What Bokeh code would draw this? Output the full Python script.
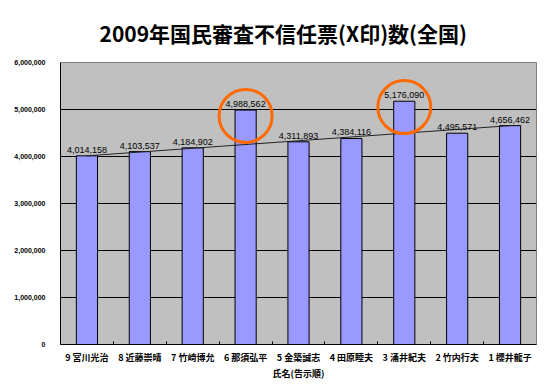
from bokeh.plotting import figure
from bokeh.embed import file_html
from bokeh.resources import INLINE
from bokeh.models import FixedTicker, NumeralTickFormatter, Range1d, ColumnDataSource
from bokeh.core.properties import value

# ---- data ----
names = ["9 宮川光治", "8 近藤崇晴", "7 竹崎博允", "6 那須弘平", "5 金築誠志",
         "4 田原睦夫", "3 涌井紀夫", "2 竹内行夫", "1 櫻井龍子"]
votes = [4014158, 4103537, 4184902, 4988562, 4311893, 4384116, 5176090, 4495571, 4656462]
highlight = [3, 6]
y_ticks = [0, 1000000, 2000000, 3000000, 4000000, 5000000, 6000000]
title_text = "2009年国民審査不信任票(X印)数(全国)"
x_title = "氏名(告示順)"

xs = [i + 0.5 for i in range(len(names))]
labels = [f"{v:,}" for v in votes]
src = ColumnDataSource(dict(x=xs, top=votes, label=labels))

p = figure(width=540, height=382, output_backend="svg", toolbar_location=None,
           x_range=Range1d(0, len(names)), y_range=Range1d(0, 6000000),
           frame_width=476, frame_height=282,
           min_border_left=60, min_border_right=4, min_border_top=62, min_border_bottom=38)
p.border_fill_color = "white"
p.background_fill_color = "#C0C0C0"
p.outline_line_color = "#808080"
p.outline_line_width = 1

p.title.text = title_text
p.title.text_font = "Noto Sans CJK JP"
p.title.text_font_size = "21px"
p.title.text_font_style = "bold"
p.title.align = "left"
p.title.offset = 39
p.title.standoff = 26
p.title.vertical_align = "top"
p.title.text_line_height = 0.8
p.title.text_color = "black"

p.vbar(x="x", top="top", width=0.4, bottom=0, source=src,
       fill_color="#9999FF", line_color="black", line_width=1)

# line between first and last bar tops
p.line(x=[xs[0], xs[-1]], y=[votes[0], votes[-1]], line_color="#222222", line_width=1)

p.text(x="x", y="top", text="label", source=src, text_align="center", text_baseline="bottom",
       y_offset=-3, text_font=value("Liberation Sans"), text_font_size="9px", text_color="black")

# highlight circles
hx = [xs[i] for i in highlight]
hy = [votes[i] - 125000 for i in highlight]
p.scatter(x=hx, y=hy, size=53, marker="circle", fill_color=None,
          line_color="#FF6A00", line_width=3)

# axes
p.xaxis.ticker = FixedTicker(ticks=xs, minor_ticks=list(range(1, len(names))))
p.xaxis.major_label_overrides = {x: n for x, n in zip(xs, names)}
p.xaxis.major_tick_line_color = None
p.xaxis.minor_tick_in = 3
p.xaxis.minor_tick_out = 0
p.xaxis.minor_tick_line_color = "black"
p.xaxis.axis_line_color = "black"
p.xaxis.major_label_text_font = "Noto Sans CJK JP"
p.xaxis.major_label_text_font_size = "9px"
p.xaxis.major_label_text_font_style = "bold"
p.xaxis.major_label_text_color = "black"
p.xaxis.major_label_standoff = 0
p.xaxis.axis_label = x_title
p.xaxis.axis_label_text_font = "Noto Sans CJK JP"
p.xaxis.axis_label_text_font_size = "9px"
p.xaxis.axis_label_text_font_style = "bold"
p.xaxis.axis_label_text_color = "black"
p.xaxis.axis_label_standoff = 0

p.yaxis.ticker = FixedTicker(ticks=y_ticks)
p.yaxis.formatter = NumeralTickFormatter(format="0,0")
p.yaxis.major_tick_line_color = None
p.yaxis.minor_tick_line_color = None
p.yaxis.axis_line_color = "black"
p.yaxis.major_label_text_font = "Liberation Sans"
p.yaxis.major_label_text_font_size = "7px"
p.yaxis.major_label_text_font_style = "bold"
p.yaxis.major_label_text_color = "black"
p.yaxis.major_label_standoff = 9

p.xgrid.grid_line_color = None
p.ygrid.grid_line_color = "black"
p.ygrid.grid_line_width = 1

open("out.html", "w").write(file_html(p, INLINE))
